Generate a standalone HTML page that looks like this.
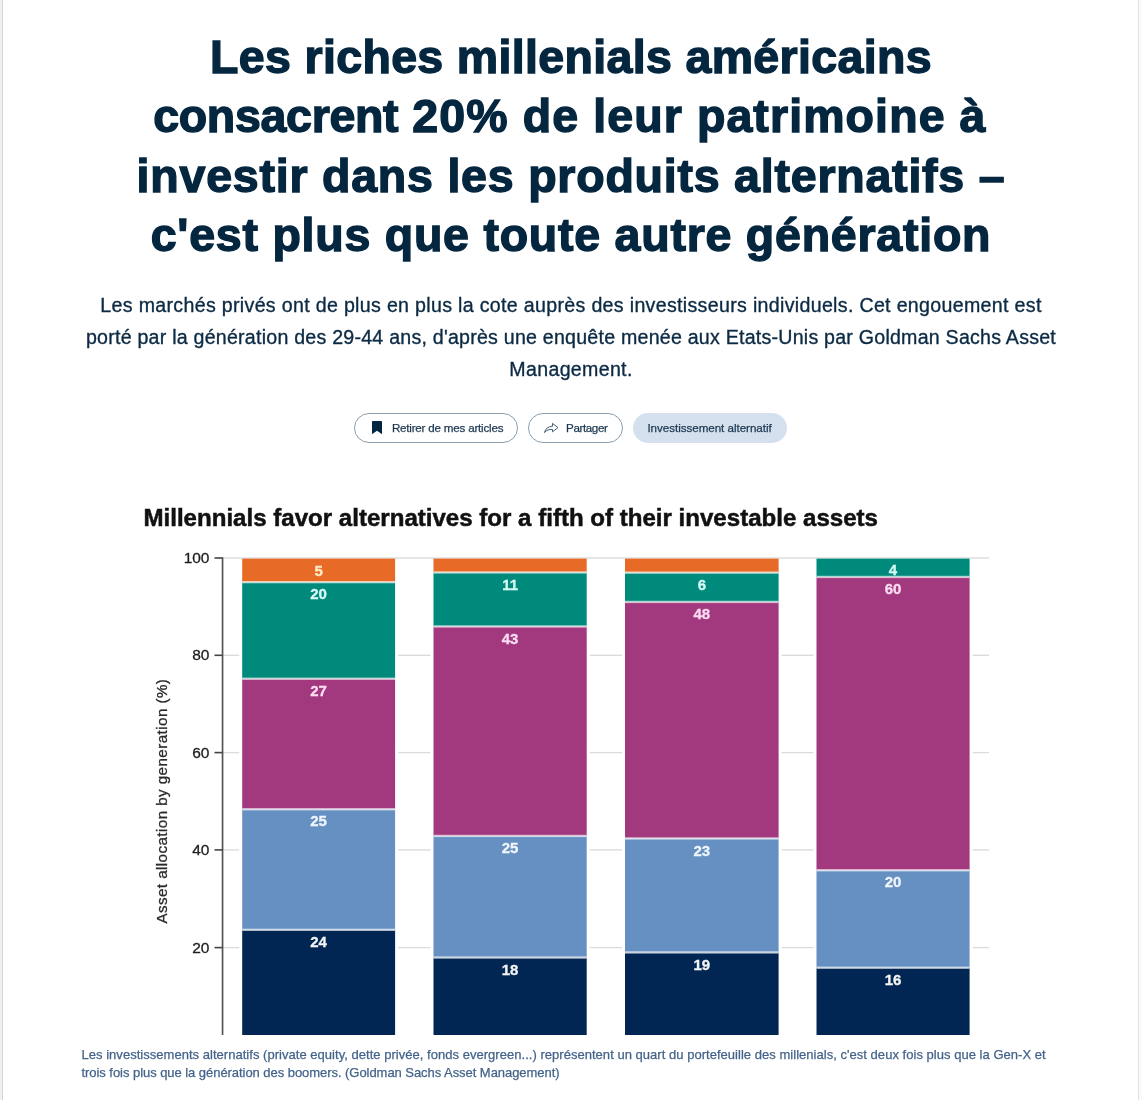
<!DOCTYPE html>
<html lang="fr">
<head>
<meta charset="utf-8">
<title>Les riches millenials américains</title>
<style>
html,body{margin:0;padding:0;}
body{will-change:transform;width:1142px;height:1100px;position:relative;overflow:hidden;background:#fff;font-family:"Liberation Sans",sans-serif;color:#0a2740;}
.edge-l{position:absolute;left:0;top:0;width:2px;height:1100px;background:#f0f0f3;}
.line-l{position:absolute;left:2px;top:0;width:1px;height:1100px;background:#d2d2d4;}
.line-r{position:absolute;left:1138px;top:0;width:1px;height:1100px;background:#e2e2e2;}
.edge-r{position:absolute;left:1139px;top:0;width:3px;height:1100px;background:#fafafa;}
h1{position:absolute;left:0;top:27.7px;width:1142px;margin:0;text-align:center;font-weight:bold;font-size:46.5px;line-height:59.6px;color:#04263f;-webkit-text-stroke:1.4px #04263f;}
h1 span{display:block;white-space:nowrap;}
.lead{position:absolute;left:0;top:288.8px;width:1142px;margin:0;text-align:center;font-size:19.6px;line-height:32px;color:#0c2a44;-webkit-text-stroke:0.35px #0c2a44;}
.lead span{display:block;white-space:nowrap;}
.pill{position:absolute;top:413px;height:30px;box-sizing:border-box;border:1px solid #8a9dab;border-radius:15px;font-size:11.6px;line-height:28.6px;color:#1c3850;white-space:nowrap;-webkit-text-stroke:0.25px #1c3850;}
.pill b{position:absolute;top:0;font-weight:normal;}
.pill svg{position:absolute;}
.tag{border:none;background:#d5e0ee;line-height:30.6px;}
.cap{position:absolute;left:81.5px;top:1045.8px;margin:0;font-size:13px;line-height:18px;color:#43638a;-webkit-text-stroke:0.25px #43638a;}
.cap span{display:block;white-space:nowrap;}
#chartwrap{position:absolute;left:81px;top:480px;width:980px;height:555px;overflow:hidden;}
#chart{display:block;filter:blur(0.45px);}
</style>
</head>
<body>
<div class="edge-l"></div><div class="line-l"></div><div class="line-r"></div><div class="edge-r"></div>

<h1>
<span style="letter-spacing:0.345px">Les riches millenials américains</span>
<span style="letter-spacing:1.1px;margin-left:-2.2px"><i style="font-style:normal;letter-spacing:-0.3px">consacrent</i> 20% de leur patrimoine à</span>
<span style="letter-spacing:0.788px">investir dans les produits alternatifs –</span>
<span style="letter-spacing:0.77px">c'est plus que toute autre génération</span>
</h1>

<p class="lead">
<span style="letter-spacing:0.32px">Les marchés privés ont de plus en plus la cote auprès des investisseurs individuels. Cet engouement est</span>
<span style="letter-spacing:0.234px">porté par la génération des 29-44 ans, d'après une enquête menée aux Etats-Unis par Goldman Sachs Asset</span>
<span style="letter-spacing:0.315px">Management.</span>
</p>

<div class="pill" style="left:354px;width:164px;">
<svg style="left:17.1px;top:7px" width="10" height="13.2" viewBox="0 0 10 13.2"><path d="M1 0h8c.6 0 1 .4 1 1v12.2L5 9.8 0 13.2V1C0 .4.4 0 1 0z" fill="#03263f"/></svg>
<b style="left:36.9px;letter-spacing:-0.2px">Retirer de mes articles</b>
</div>
<div class="pill" style="left:528px;width:94.6px;">
<svg style="left:15px;top:8px" width="15" height="12" viewBox="0 0 15 12"><path d="M8.5 1.4L14 5.6 8.5 9.8V7.4C5.2 7.3 2.4 8 .5 10.6 1.3 6.7 4 4.5 8.5 4.2z" fill="none" stroke="#3f566a" stroke-width="0.95" stroke-linejoin="miter"/></svg>
<b style="left:37.1px;letter-spacing:-0.39px">Partager</b>
</div>
<div class="pill tag" style="left:632.8px;width:154px;">
<b style="left:14.6px;letter-spacing:-0.03px">Investissement alternatif</b>
</div>

<div id="chartwrap"><svg id="chart" width="980" height="575" viewBox="81 480 980 575" font-family="Liberation Sans, sans-serif">
<rect x="61" y="460" width="1020" height="620" fill="#fff"/>
<text x="143.5" y="525.7" font-size="23.6" font-weight="bold" fill="#111" stroke="#111" stroke-width="0.5" textLength="734.5" lengthAdjust="spacingAndGlyphs">Millennials favor alternatives for a fifth of their investable assets</text>
<rect x="222" y="557.3" width="767" height="1.4" fill="#dcdcdc"/>
<rect x="222" y="654.6" width="767" height="1.4" fill="#dcdcdc"/>
<rect x="222" y="751.9" width="767" height="1.4" fill="#dcdcdc"/>
<rect x="222" y="849.2" width="767" height="1.4" fill="#dcdcdc"/>
<rect x="222" y="946.9" width="767" height="1.4" fill="#dcdcdc"/>
<rect x="221.7" y="557.3" width="1.7" height="510" fill="#555"/>
<rect x="214.5" y="557.2" width="8" height="1.6" fill="#444"/>
<text x="209.5" y="563.1" font-size="15.5" text-anchor="end" fill="#1e1e1e" stroke="#1e1e1e" stroke-width="0.3">100</text>
<rect x="214.5" y="654.5" width="8" height="1.6" fill="#444"/>
<text x="209.5" y="660.4" font-size="15.5" text-anchor="end" fill="#1e1e1e" stroke="#1e1e1e" stroke-width="0.3">80</text>
<rect x="214.5" y="751.8" width="8" height="1.6" fill="#444"/>
<text x="209.5" y="757.7" font-size="15.5" text-anchor="end" fill="#1e1e1e" stroke="#1e1e1e" stroke-width="0.3">60</text>
<rect x="214.5" y="849.1" width="8" height="1.6" fill="#444"/>
<text x="209.5" y="855.0" font-size="15.5" text-anchor="end" fill="#1e1e1e" stroke="#1e1e1e" stroke-width="0.3">40</text>
<rect x="214.5" y="946.8" width="8" height="1.6" fill="#444"/>
<text x="209.5" y="952.7" font-size="15.5" text-anchor="end" fill="#1e1e1e" stroke="#1e1e1e" stroke-width="0.3">20</text>
<text transform="translate(166.6,923.6) rotate(-90)" font-size="15.2" fill="#2a2a2a" stroke="#2a2a2a" stroke-width="0.3" textLength="244.5" lengthAdjust="spacing">Asset allocation by generation (%)</text>
<rect x="239.2" y="559.5" width="158.9" height="510" fill="#fff"/>
<rect x="242.2" y="558.6" width="152.9" height="23.6" fill="#e86a27"/>
<rect x="242.2" y="582.2" width="152.9" height="96.6" fill="#008a7b"/>
<rect x="242.2" y="678.8" width="152.9" height="130.5" fill="#a2397e"/>
<rect x="242.2" y="809.3" width="152.9" height="120.6" fill="#6590c1"/>
<rect x="242.2" y="929.9" width="152.9" height="130.1" fill="#022654"/>
<rect x="242.2" y="581.0" width="152.9" height="2.3" fill="#fff" opacity="0.68"/>
<rect x="242.2" y="677.6" width="152.9" height="2.3" fill="#fff" opacity="0.68"/>
<rect x="242.2" y="808.1" width="152.9" height="2.3" fill="#fff" opacity="0.68"/>
<rect x="242.2" y="928.7" width="152.9" height="2.3" fill="#fff" opacity="0.68"/>
<text x="318.6" y="575.6" font-size="15" font-weight="bold" text-anchor="middle" fill="#fdebc8" stroke="#fdebc8" stroke-width="0.3">5</text>
<text x="318.6" y="599.2" font-size="15" font-weight="bold" text-anchor="middle" fill="#d6fbf7" stroke="#d6fbf7" stroke-width="0.3">20</text>
<text x="318.6" y="695.8" font-size="15" font-weight="bold" text-anchor="middle" fill="#fcdcf3" stroke="#fcdcf3" stroke-width="0.3">27</text>
<text x="318.6" y="826.3" font-size="15" font-weight="bold" text-anchor="middle" fill="#f0f5fb" stroke="#f0f5fb" stroke-width="0.3">25</text>
<text x="318.6" y="946.9" font-size="15" font-weight="bold" text-anchor="middle" fill="#f4f4f4" stroke="#f4f4f4" stroke-width="0.3">24</text>
<rect x="430.5" y="559.5" width="159.2" height="510" fill="#fff"/>
<rect x="433.5" y="558.6" width="153.2" height="13.9" fill="#e86a27"/>
<rect x="433.5" y="572.5" width="153.2" height="54.0" fill="#008a7b"/>
<rect x="433.5" y="626.5" width="153.2" height="209.5" fill="#a2397e"/>
<rect x="433.5" y="836.0" width="153.2" height="121.6" fill="#6590c1"/>
<rect x="433.5" y="957.6" width="153.2" height="102.4" fill="#022654"/>
<rect x="433.5" y="571.3" width="153.2" height="2.3" fill="#fff" opacity="0.68"/>
<rect x="433.5" y="625.3" width="153.2" height="2.3" fill="#fff" opacity="0.68"/>
<rect x="433.5" y="834.8" width="153.2" height="2.3" fill="#fff" opacity="0.68"/>
<rect x="433.5" y="956.4" width="153.2" height="2.3" fill="#fff" opacity="0.68"/>
<text x="510.1" y="589.5" font-size="15" font-weight="bold" text-anchor="middle" fill="#d6fbf7" stroke="#d6fbf7" stroke-width="0.3">11</text>
<text x="510.1" y="643.5" font-size="15" font-weight="bold" text-anchor="middle" fill="#fcdcf3" stroke="#fcdcf3" stroke-width="0.3">43</text>
<text x="510.1" y="853.0" font-size="15" font-weight="bold" text-anchor="middle" fill="#f0f5fb" stroke="#f0f5fb" stroke-width="0.3">25</text>
<text x="510.1" y="974.6" font-size="15" font-weight="bold" text-anchor="middle" fill="#f4f4f4" stroke="#f4f4f4" stroke-width="0.3">18</text>
<rect x="622.0" y="559.5" width="159.6" height="510" fill="#fff"/>
<rect x="625.0" y="558.6" width="153.6" height="14.1" fill="#e86a27"/>
<rect x="625.0" y="572.7" width="153.6" height="29.3" fill="#008a7b"/>
<rect x="625.0" y="602.0" width="153.6" height="236.5" fill="#a2397e"/>
<rect x="625.0" y="838.5" width="153.6" height="114.0" fill="#6590c1"/>
<rect x="625.0" y="952.5" width="153.6" height="107.5" fill="#022654"/>
<rect x="625.0" y="571.5" width="153.6" height="2.3" fill="#fff" opacity="0.68"/>
<rect x="625.0" y="600.8" width="153.6" height="2.3" fill="#fff" opacity="0.68"/>
<rect x="625.0" y="837.3" width="153.6" height="2.3" fill="#fff" opacity="0.68"/>
<rect x="625.0" y="951.3" width="153.6" height="2.3" fill="#fff" opacity="0.68"/>
<text x="701.8" y="589.7" font-size="15" font-weight="bold" text-anchor="middle" fill="#d6fbf7" stroke="#d6fbf7" stroke-width="0.3">6</text>
<text x="701.8" y="619.0" font-size="15" font-weight="bold" text-anchor="middle" fill="#fcdcf3" stroke="#fcdcf3" stroke-width="0.3">48</text>
<text x="701.8" y="855.5" font-size="15" font-weight="bold" text-anchor="middle" fill="#f0f5fb" stroke="#f0f5fb" stroke-width="0.3">23</text>
<text x="701.8" y="969.5" font-size="15" font-weight="bold" text-anchor="middle" fill="#f4f4f4" stroke="#f4f4f4" stroke-width="0.3">19</text>
<rect x="813.5" y="559.5" width="159.1" height="510" fill="#fff"/>
<rect x="816.5" y="558.6" width="153.1" height="18.4" fill="#008a7b"/>
<rect x="816.5" y="577.0" width="153.1" height="293.3" fill="#a2397e"/>
<rect x="816.5" y="870.3" width="153.1" height="97.5" fill="#6590c1"/>
<rect x="816.5" y="967.8" width="153.1" height="92.2" fill="#022654"/>
<rect x="816.5" y="575.8" width="153.1" height="2.3" fill="#fff" opacity="0.68"/>
<rect x="816.5" y="869.1" width="153.1" height="2.3" fill="#fff" opacity="0.68"/>
<rect x="816.5" y="966.6" width="153.1" height="2.3" fill="#fff" opacity="0.68"/>
<text x="893.0" y="575.1" font-size="15" font-weight="bold" text-anchor="middle" fill="#d6fbf7" stroke="#d6fbf7" stroke-width="0.3">4</text>
<text x="893.0" y="594.0" font-size="15" font-weight="bold" text-anchor="middle" fill="#fcdcf3" stroke="#fcdcf3" stroke-width="0.3">60</text>
<text x="893.0" y="887.3" font-size="15" font-weight="bold" text-anchor="middle" fill="#f0f5fb" stroke="#f0f5fb" stroke-width="0.3">20</text>
<text x="893.0" y="984.8" font-size="15" font-weight="bold" text-anchor="middle" fill="#f4f4f4" stroke="#f4f4f4" stroke-width="0.3">16</text>
</svg></div>

<p class="cap">
<span style="letter-spacing:0.03px">Les investissements alternatifs (private equity, dette privée, fonds evergreen...) représentent un quart du portefeuille des millenials, c'est deux fois plus que la Gen-X et</span>
<span style="letter-spacing:-0.05px">trois fois plus que la génération des boomers. (Goldman Sachs Asset Management)</span>
</p>
</body>
</html>
